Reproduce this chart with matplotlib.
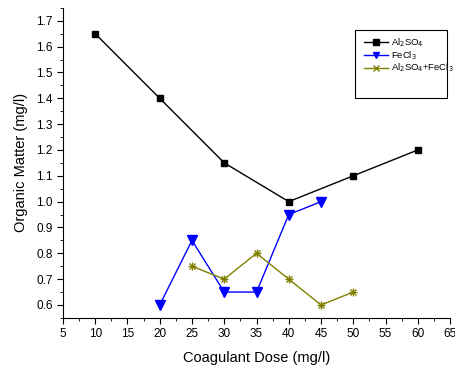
import matplotlib
matplotlib.use("Agg")
import matplotlib.pyplot as plt
from matplotlib.ticker import MultipleLocator, FormatStrFormatter
from matplotlib.lines import Line2D
from matplotlib.patches import Rectangle

plt.rcParams['font.family'] = ['Liberation Sans', 'DejaVu Sans']

x_al = [10, 20, 30, 40, 50, 60]
y_al = [1.65, 1.40, 1.15, 1.00, 1.10, 1.20]
x_fe = [20, 25, 30, 35, 40, 45]
y_fe = [0.60, 0.85, 0.65, 0.65, 0.95, 1.00]
x_mix = [25, 30, 35, 40, 45, 50]
y_mix = [0.75, 0.70, 0.80, 0.70, 0.60, 0.65]

lab_al = 'Al$_2$SO$_4$'
lab_fe = 'FeCl$_3$'
lab_mix = 'Al$_2$SO$_4$+FeCl$_3$'

fig = plt.figure(figsize=(4.56, 3.74), dpi=100)
ax = fig.add_axes([0.138, 0.150, 0.849, 0.829])

ax.plot(x_al, y_al, color='black', lw=1, marker='s', ms=5)
ax.plot(x_fe, y_fe, color='#0000ff', lw=1, marker='v', ms=6.5)
ax.plot(x_mix, y_mix, color='#808000', lw=1, marker='x', ms=5, mew=1)
ax.plot(x_mix, y_mix, color='#808000', lw=0, marker='+', ms=6, mew=1)

ax.set_xlim(5, 65)
ax.set_ylim(0.55, 1.75)
ax.xaxis.set_major_locator(MultipleLocator(5))
ax.xaxis.set_minor_locator(MultipleLocator(2.5))
ax.yaxis.set_minor_locator(MultipleLocator(0.05))
ax.set_yticks([0.6 + 0.1 * i for i in range(12)])
ax.yaxis.set_major_formatter(FormatStrFormatter('%.1f'))
ax.spines['top'].set_visible(False)
ax.spines['right'].set_visible(False)
ax.tick_params(which='major', direction='out', length=4, labelsize=8.5)
ax.tick_params(which='minor', direction='out', length=2)

ax.set_xlabel('Coagulant Dose (mg/l)', fontsize=10.5, labelpad=8)
ax.set_ylabel('Organic Matter (mg/l)', fontsize=10.5, labelpad=6)

fig.patches.append(Rectangle((0.7785, 0.738), 0.2018, 0.182, transform=fig.transFigure,
                             fill=False, edgecolor='black', lw=0.8))

handles = [
    Line2D([], [], color='black', lw=1, marker='s', ms=4),
    Line2D([], [], color='#0000ff', lw=1, marker='v', ms=5),
    Line2D([], [], color='#808000', lw=1, marker='x', ms=4),
]
leg = fig.legend(handles, [lab_al, lab_fe, lab_mix], loc='upper left',
                 bbox_to_anchor=(0.783, 0.92), fontsize=6.8, frameon=False,
                 handlelength=2.6, borderpad=0.2, labelspacing=0.02, handletextpad=0.3)

fig.savefig('out.png', dpi=100)
